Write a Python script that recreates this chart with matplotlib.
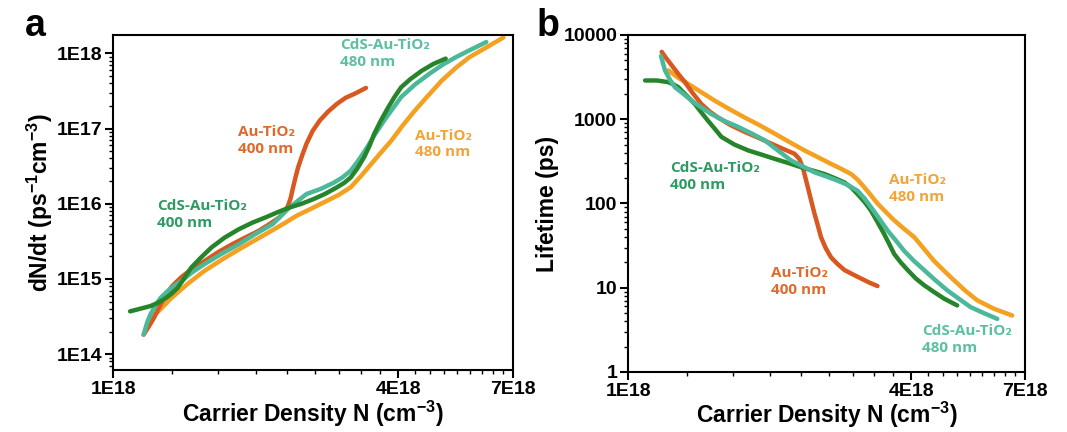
import numpy as np
import matplotlib
matplotlib.use("Agg")
import matplotlib.pyplot as plt
from matplotlib.ticker import FixedLocator, LogLocator, NullFormatter

plt.rcParams['font.family'] = ['Liberation Sans', 'DejaVu Sans']
plt.rcParams['font.weight'] = 'bold'
plt.rcParams['mathtext.fontset'] = 'custom'
plt.rcParams['mathtext.rm'] = 'Liberation Sans:bold'
plt.rcParams['mathtext.bf'] = 'Liberation Sans:bold'
plt.rcParams['mathtext.it'] = 'Liberation Sans:bold'

# carrier density in units of 1E18 cm^-3, y as log10 values
# panel a: dN/dt
a_cds400_x = [1.086, 1.15, 1.199, 1.24, 1.281, 1.32, 1.368, 1.41, 1.462, 1.53, 1.614, 1.72, 1.841, 1.97, 2.101, 2.23, 2.357,
              2.5, 2.645, 2.8, 2.972, 3.08, 3.176, 3.28, 3.39, 3.48, 3.56, 3.68, 3.81, 3.93, 4.06, 4.25, 4.49, 4.75, 5.04]
a_cds400_y = [14.57, 14.61, 14.64, 14.68, 14.73, 14.79, 14.88, 15.0, 15.15, 15.28, 15.42, 15.55, 15.66, 15.75, 15.82, 15.89, 15.95,
              16.0, 16.06, 16.13, 16.22, 16.28, 16.35, 16.47, 16.62, 16.77, 16.93, 17.11, 17.28, 17.42, 17.55, 17.66, 17.77, 17.86, 17.93]

a_cds480_x = [1.16, 1.18, 1.199, 1.23, 1.26, 1.32, 1.391, 1.47, 1.561, 1.7, 1.841, 2.0, 2.173, 2.357, 2.562, 2.75, 2.924,
              3.05, 3.176, 3.3, 3.44, 3.58, 3.74, 3.9, 4.06, 4.35, 4.66, 4.97, 5.30, 5.7, 6.14]
a_cds480_y = [14.26, 14.42, 14.53, 14.65, 14.75, 14.87, 14.97, 15.09, 15.20, 15.34, 15.46, 15.6, 15.73, 15.95, 16.13, 16.2, 16.28,
              16.35, 16.44, 16.58, 16.75, 16.93, 17.11, 17.27, 17.42, 17.59, 17.73, 17.85, 17.95, 18.05, 18.15]

a_au480_x = [1.199, 1.26, 1.324, 1.44, 1.561, 1.7, 1.841, 2.0, 2.173, 2.3, 2.44, 2.63, 2.83, 3.0, 3.176, 3.34, 3.51,
             3.69, 3.87, 4.1, 4.34, 4.63, 4.95, 5.3, 5.66, 6.15, 6.67]
a_au480_y = [14.46, 14.60, 14.74, 14.94, 15.11, 15.26, 15.39, 15.52, 15.65, 15.74, 15.84, 15.94, 16.04, 16.12, 16.22, 16.37, 16.53,
             16.69, 16.84, 17.05, 17.24, 17.44, 17.64, 17.81, 17.95, 18.08, 18.21]

a_au400_x = [1.16, 1.19, 1.219, 1.25, 1.281, 1.33, 1.391, 1.47, 1.561, 1.67, 1.782, 1.9, 2.03, 2.14, 2.245, 2.30, 2.34,
             2.37, 2.40, 2.43, 2.458, 2.51, 2.562, 2.64, 2.735, 2.85, 2.972, 3.1, 3.23, 3.42]
a_au400_y = [14.26, 14.37, 14.48, 14.62, 14.75, 14.9, 15.02, 15.14, 15.24, 15.36, 15.46, 15.55, 15.64, 15.73, 15.82, 15.89, 15.97,
             16.07, 16.22, 16.36, 16.48, 16.65, 16.80, 16.97, 17.11, 17.23, 17.33, 17.41, 17.46, 17.54]

# panel b: lifetime (ps), log10 values
b_cds400_x = [1.085, 1.15, 1.216, 1.25, 1.277, 1.33, 1.385, 1.43, 1.478, 1.53, 1.578, 1.68, 1.798, 1.92, 2.047, 2.19, 2.332,
              2.47, 2.614, 2.75, 2.883, 2.98, 3.076, 3.18, 3.28, 3.39, 3.50, 3.59, 3.68, 3.80, 3.93, 4.09, 4.26, 4.47, 4.70, 5.01]
b_cds400_y = [3.46, 3.46, 3.44, 3.41, 3.38, 3.28, 3.18, 3.08, 2.98, 2.88, 2.79, 2.70, 2.63, 2.58, 2.53, 2.48, 2.43,
              2.39, 2.35, 2.30, 2.25, 2.19, 2.11, 2.02, 1.92, 1.78, 1.64, 1.52, 1.40, 1.30, 1.21, 1.11, 1.03, 0.95, 0.87, 0.79]

b_cds480_x = [1.173, 1.185, 1.196, 1.225, 1.256, 1.31, 1.362, 1.43, 1.503, 1.6, 1.711, 1.83, 1.95, 2.08, 2.22, 2.35, 2.489,
              2.64, 2.79, 2.93, 3.076, 3.18, 3.28, 3.42, 3.56, 3.71, 3.86, 4.05, 4.26, 4.5, 4.77, 5.05, 5.35, 5.7, 6.10]
b_cds480_y = [3.75, 3.66, 3.58, 3.47, 3.38, 3.30, 3.22, 3.14, 3.06, 2.98, 2.91, 2.83, 2.75, 2.63, 2.51, 2.44, 2.37,
              2.32, 2.27, 2.22, 2.15, 2.06, 1.96, 1.82, 1.68, 1.56, 1.44, 1.32, 1.21, 1.09, 0.97, 0.87, 0.77, 0.70, 0.63]

b_au400_x = [1.177, 1.205, 1.236, 1.28, 1.319, 1.37, 1.43, 1.49, 1.552, 1.65, 1.768, 1.89, 2.014, 2.13, 2.257, 2.31,
             2.35, 2.38, 2.41, 2.45, 2.489, 2.53, 2.57, 2.63, 2.70, 2.79, 2.883, 3.0, 3.126, 3.26, 3.39]
b_au400_y = [3.80, 3.72, 3.64, 3.53, 3.44, 3.31, 3.18, 3.09, 3.02, 2.93, 2.85, 2.78, 2.71, 2.65, 2.59, 2.53,
             2.43, 2.31, 2.19, 2.03, 1.88, 1.74, 1.60, 1.47, 1.36, 1.28, 1.21, 1.16, 1.11, 1.06, 1.02]

b_au480_x = [1.216, 1.27, 1.34, 1.43, 1.527, 1.64, 1.768, 1.9, 2.047, 2.2, 2.37, 2.53, 2.70, 2.84, 2.978, 3.08,
             3.18, 3.28, 3.39, 3.53, 3.68, 3.86, 4.06, 4.26, 4.47, 4.7, 4.93, 5.2, 5.53, 6.0, 6.56]
b_au480_y = [3.58, 3.50, 3.42, 3.32, 3.22, 3.12, 3.02, 2.93, 2.83, 2.73, 2.63, 2.55, 2.47, 2.41, 2.35, 2.28,
             2.19, 2.10, 2.00, 1.90, 1.80, 1.70, 1.60, 1.46, 1.32, 1.20, 1.09, 0.97, 0.85, 0.75, 0.67]

c_dkgreen = '#26852a'
c_teal = '#4cb89a'
c_red = '#d8581f'
c_orange = '#f4a020'

fig = plt.figure(figsize=(10.67, 4.32), dpi=100)
ax1 = fig.add_axes([0.106, 0.143, 0.375, 0.776])
ax2 = fig.add_axes([0.589, 0.139, 0.372, 0.780])

def arr(x, y):
    return np.array(x) * 1e18, 10 ** np.array(y)

lw = 3.2
for ax, sets in [(ax1, [(a_au480_x, a_au480_y, c_orange), (a_au400_x, a_au400_y, c_red),
                        (a_cds480_x, a_cds480_y, c_teal), (a_cds400_x, a_cds400_y, c_dkgreen)]),
                 (ax2, [(b_au480_x, b_au480_y, c_orange), (b_au400_x, b_au400_y, c_red),
                        (b_cds400_x, b_cds400_y, c_dkgreen), (b_cds480_x, b_cds480_y, c_teal)])]:
    for x, y, c in sets:
        xx, yy = arr(x, y)
        ax.plot(xx, yy, color=c, lw=lw, solid_capstyle='round', solid_joinstyle='round')
    ax.set_xscale('log')
    ax.set_yscale('log')
    ax.set_xlim(1e18, 7e18)
    ax.xaxis.set_major_locator(FixedLocator([1e18, 4e18, 7e18]))
    ax.set_xticklabels(['1E18', '4E18', '7E18'])
    ax.xaxis.set_minor_locator(FixedLocator([1e18 + k * 1e18 / 3 for k in range(1, 18) if k % 9 != 0]))
    ax.xaxis.set_minor_formatter(NullFormatter())
    ax.yaxis.set_minor_locator(LogLocator(base=10, subs=np.arange(2, 10)))
    ax.yaxis.set_minor_formatter(NullFormatter())
    ax.tick_params(which='major', direction='out', length=6, width=1.5, labelsize=14, pad=2)
    ax.tick_params(which='minor', direction='out', length=3, width=1.0)
    for s in ax.spines.values():
        s.set_linewidth(1.5)
    ax.set_xlabel(r'Carrier Density N (cm$^{-3}$)', fontsize=16.5, fontweight='bold', labelpad=0)

ax1.set_ylim(10 ** 13.787, 10 ** 18.244)
ax1.yaxis.set_major_locator(FixedLocator([1e14, 1e15, 1e16, 1e17, 1e18]))
ax1.set_yticklabels(['1E14', '1E15', '1E16', '1E17', '1E18'])
ax1.set_ylabel(r'dN/dt (ps$^{-1}$cm$^{-3}$)', fontsize=16.5, fontweight='bold', labelpad=1)

ax2.set_ylim(1, 10000)
ax2.yaxis.set_major_locator(FixedLocator([1, 10, 100, 1000, 10000]))
ax2.set_yticklabels(['1', '10', '100', '1000', '10000'])
ax2.set_ylabel('Lifetime (ps)', fontsize=16.5, fontweight='bold', labelpad=3)

lab_font = ['Open Sans', 'DejaVu Sans']
lab_kw = dict(fontsize=11, fontweight='bold', family=lab_font, ha='left', va='top', linespacing=1.25)
l_green = '#2f9a62'
l_teal = '#5cbf9f'
l_red = '#e06a2c'
l_orange = '#f2a43a'

ax1.text(1.24e18, 10 ** 16.06, 'CdS-Au-TiO\u2082\n400 nm', color=l_green, **lab_kw)
ax1.text(1.84e18, 10 ** 17.05, 'Au-TiO\u2082\n400 nm', color=l_red, **lab_kw)
ax1.text(3.02e18, 10 ** 18.2, 'CdS-Au-TiO\u2082\n480 nm', color=l_teal, **lab_kw)
ax1.text(4.34e18, 10 ** 17.0, 'Au-TiO\u2082\n480 nm', color=l_orange, **lab_kw)

ax2.text(1.226e18, 10 ** 2.5, 'CdS-Au-TiO\u2082\n400 nm', color=l_green, **lab_kw)
ax2.text(3.59e18, 10 ** 2.36, 'Au-TiO\u2082\n480 nm', color=l_orange, **lab_kw)
ax2.text(2.014e18, 10 ** 1.26, 'Au-TiO\u2082\n400 nm', color=l_red, **lab_kw)
ax2.text(4.22e18, 10 ** 0.57, 'CdS-Au-TiO\u2082\n480 nm', color=l_teal, **lab_kw)

fig.text(0.023, 0.982, 'a', fontsize=27, fontweight='bold', va='top')
fig.text(0.503, 0.982, 'b', fontsize=27, fontweight='bold', va='top')

fig.savefig('out.png', dpi=100)
